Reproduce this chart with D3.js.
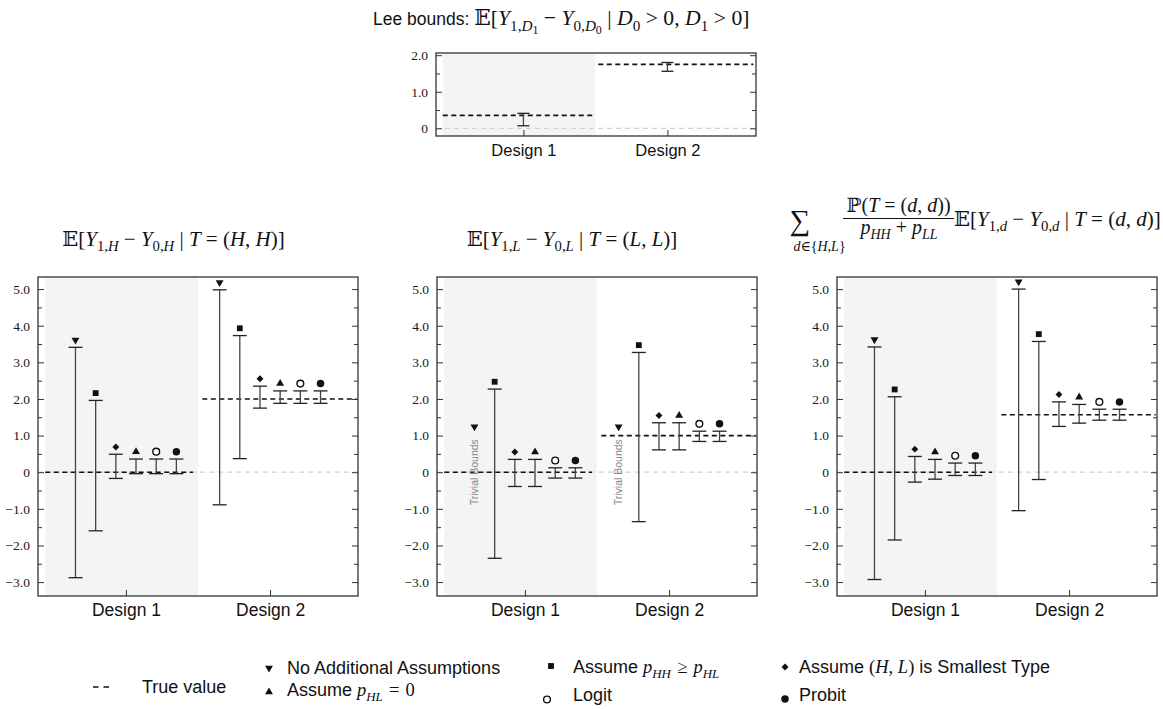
<!DOCTYPE html>
<html>
<head>
<meta charset="utf-8">
<script src="https://cdn.jsdelivr.net/npm/d3@7"></script>
<style>
  body { margin: 0; background: #fff; }
  svg { display: block; }
  text { white-space: pre; }
</style>
</head>
<body>
<svg id="chart" width="1163" height="709"></svg>
<script>
// ---- data ----
const designs = ["Design 1", "Design 2"];
// bar order inside each design group
const methods = ["No Additional Assumptions", "Assume p_HH >= p_HL", "Assume (H,L) is Smallest Type",
                 "Assume p_HL = 0", "Logit", "Probit"];
const symbols = ["tri-down", "square", "diamond", "tri-up", "circle-open", "circle"];
const offsets = [-0.35, -0.21, -0.07, 0.07, 0.21, 0.35];

// Lee bounds (top panel)
const leeLower = [0.07, 1.56];
const leeUpper = [0.41, 1.80];
const leeTrue = [0.355, 1.75];

// E[Y1H - Y0H | T=(H,H)]
const hhLower = [[-2.88, -1.60, -0.17, -0.04, -0.04, -0.04], [-0.89, 0.37, 1.75, 1.88, 1.88, 1.88]];
const hhUpper = [[3.41, 1.96, 0.49, 0.36, 0.36, 0.36], [4.98, 3.73, 2.35, 2.22, 2.22, 2.22]];
const hhTrue = [0, 2.0];

// E[Y1L - Y0L | T=(L,L)]  (first method: trivial bounds, no bar)
const llLower = [[null, -2.35, -0.39, -0.39, -0.16, -0.16], [null, -1.35, 0.61, 0.61, 0.84, 0.84]];
const llUpper = [[null, 2.27, 0.35, 0.35, 0.12, 0.12], [null, 3.27, 1.35, 1.35, 1.12, 1.12]];
const llTrue = [0, 1.0];
const llTrivialMark = [1.24, 1.24];

// weighted average over d in {H,L}
const avLower = [[-2.93, -1.85, -0.27, -0.19, -0.09, -0.09], [-1.05, -0.20, 1.25, 1.34, 1.42, 1.42]];
const avUpper = [[3.42, 2.06, 0.43, 0.35, 0.25, 0.25], [5.00, 3.57, 1.92, 1.85, 1.72, 1.72]];
const avTrue = [0, 1.57];

const yMajor = [-3, -2, -1, 0, 1, 2, 3, 4, 5];
const yMinor = [-2.5, -1.5, -0.5, 0.5, 1.5, 2.5, 3.5, 4.5];
const leeMajor = [0, 1, 2];
const leeMinor = [0.5, 1.5];

// ---- helpers ----
const svg = d3.select("#chart");
const SERIF = "'Liberation Serif', 'DejaVu Serif', serif";
const SANS = "'Liberation Sans', Arial, Helvetica, sans-serif";
const ink = "#333";

// parts: [text, kind] ; kind 'r' roman, 'i' italic, 's' sans, leading '_' = subscript level
function mathText(parent, parts, size, attrs, sansSize) {
  const t = parent.append("text").attr("font-size", size).attr("fill", "#111");
  Object.entries(attrs || {}).forEach(([k, v]) => t.attr(k, v));
  const shift = [0, 0.26 * size, 0.4 * size];
  const scale = [1, 0.7, 0.55];
  let cur = 0;
  parts.forEach(([txt, kind]) => {
    const lvl = (kind.match(/_/g) || []).length;
    const st = kind.replace(/_/g, "");
    t.append("tspan")
      .style("font-family", st === "s" ? SANS : SERIF)
      .style("font-style", st === "i" ? "italic" : "normal")
      .style("font-size", (st === "s" ? (sansSize || size) : size * scale[lvl]) + "px")
      .attr("dy", shift[lvl] - cur)
      .text(txt);
    cur = shift[lvl];
  });
  return t;
}

function marker(g, kind, cx, cy) {
  const sym = {
    "tri-down": [d3.symbolTriangle, 27, 180],
    "tri-up": [d3.symbolTriangle, 27, 0],
    "square": [d3.symbolSquare, 34, 0],
    "diamond": [d3.symbolSquare, 24, 45],
    "circle": [d3.symbolCircle, 44, 0],
    "circle-open": [d3.symbolCircle, 36, 0]
  }[kind];
  const p = g.append("path")
    .attr("d", d3.symbol().type(sym[0]).size(sym[1])())
    .attr("transform", `translate(${cx},${cy}) rotate(${sym[2]})`);
  if (kind === "circle-open") p.attr("fill", "#fff").attr("stroke", "#111").attr("stroke-width", 1.4);
  else p.attr("fill", "#111");
}

function cleanAxis(sel) {
  sel.select(".domain").remove();
  sel.selectAll("line").attr("stroke", ink);
  return sel;
}

function frameAxes(g, x, y, w, h, major, minor, fmt, labelSize, xlabelSize) {
  const left = g.append("g")
    .call(d3.axisLeft(y).tickValues(major).tickSize(-6).tickPadding(8).tickFormat(fmt));
  cleanAxis(left).selectAll("text")
    .style("font-family", SERIF).style("font-size", labelSize + "px").style("fill", "#1a1a1a");
  cleanAxis(g.append("g").call(d3.axisLeft(y).tickValues(minor).tickSize(-4).tickFormat("")));
  cleanAxis(g.append("g").attr("transform", `translate(${w},0)`)
    .call(d3.axisRight(y).tickValues(major).tickSize(-6).tickFormat("")));
  cleanAxis(g.append("g").attr("transform", `translate(${w},0)`)
    .call(d3.axisRight(y).tickValues(minor).tickSize(-4).tickFormat("")));
  const bottom = g.append("g").attr("transform", `translate(0,${h})`)
    .call(d3.axisBottom(x).tickValues([0, 1]).tickSize(-6).tickPadding(8).tickFormat(i => designs[i]));
  cleanAxis(bottom).selectAll("text")
    .style("font-family", SANS).style("font-size", xlabelSize + "px").style("fill", "#111");
  g.append("rect").attr("width", w).attr("height", h)
    .attr("fill", "none").attr("stroke", ink).attr("stroke-width", 1.3);
}

const fmtY = d => d === 0 ? "0" : d3.format(".1f")(d);

function shadeAndLines(g, x, y, w, truth, spans) {
  g.append("rect").attr("x", x(-0.56)).attr("y", 0)
    .attr("width", x(0.5) - x(-0.56)).attr("height", y.range()[0]).attr("fill", "#f4f4f4");
  g.append("line").attr("x1", 0).attr("x2", w).attr("y1", y(0)).attr("y2", y(0))
    .attr("stroke", "#d2d2d2").attr("stroke-width", 1.2).attr("stroke-dasharray", "5,4");
  truth.forEach((v, i) => {
    g.append("line").attr("x1", x(spans[i][0])).attr("x2", x(spans[i][1]))
      .attr("y1", y(v)).attr("y2", y(v))
      .attr("stroke", "#111").attr("stroke-width", 1.6).attr("stroke-dasharray", "5,3.5");
  });
}

function errbar(g, xp, y0, y1, half) {
  g.append("line").attr("x1", xp).attr("x2", xp).attr("y1", y0).attr("y2", y1)
    .attr("stroke", "#444").attr("stroke-width", 1.3);
  [y0, y1].forEach(yy => g.append("line").attr("x1", xp - half).attr("x2", xp + half)
    .attr("y1", yy).attr("y2", yy).attr("stroke", "#222").attr("stroke-width", 1.3));
}

// ---- main panels ----
const W = 320, H = 319, TOP = 277;
const xDom = [-0.61, 1.61];
const yDom = [-3.38, 5.33];

function mainPanel(left, lower, upper, truth, trivialMark) {
  const g = svg.append("g").attr("transform", `translate(${left},${TOP})`);
  const x = d3.scaleLinear().domain(xDom).range([0, W]);
  const y = d3.scaleLinear().domain(yDom).range([H, 0]);
  shadeAndLines(g, x, y, W, truth, [[-0.56, 0.465], [0.53, 1.6]]);
  designs.forEach((d, i) => {
    methods.forEach((m, j) => {
      const xp = x(i + offsets[j]);
      if (lower[i][j] === null) {
        marker(g, symbols[j], xp, y(trivialMark[i]));
        g.append("text").attr("transform", `translate(${xp + 3.5},${y(0)}) rotate(-90)`)
          .attr("text-anchor", "middle").style("font-family", SANS).style("font-size", "10.5px")
          .attr("fill", "#8a8a8a").text("Trivial Bounds");
        return;
      }
      errbar(g, xp, y(lower[i][j]), y(upper[i][j]), 7);
      marker(g, symbols[j], xp, y(upper[i][j] + 0.2));
    });
  });
  frameAxes(g, x, y, W, H, yMajor, yMinor, fmtY, 13.5, 17.5);
  return g;
}

mainPanel(38, hhLower, hhUpper, hhTrue);
mainPanel(437, llLower, llUpper, llTrue, llTrivialMark);
mainPanel(837, avLower, avUpper, avTrue);

// ---- top panel: Lee bounds ----
{
  const left = 436, top = 53, w = 320, h = 83;
  const g = svg.append("g").attr("transform", `translate(${left},${top})`);
  const x = d3.scaleLinear().domain([-0.607, 1.615]).range([0, w]);
  const y = d3.scaleLinear().domain([-0.21, 2.06]).range([h, 0]);
  shadeAndLines(g, x, y, w, leeTrue, [[-0.56, 0.478], [0.52, 1.597]]);
  designs.forEach((d, i) => errbar(g, x(i), y(leeLower[i]), y(leeUpper[i]), 6));
  frameAxes(g, x, y, w, h, leeMajor, leeMinor, fmtY, 13.5, 16.5);
}

// ---- titles ----
const TS = 21;
mathText(svg, [["Lee bounds: ", "s"], ["𝔼", "r"], ["[", "r"], ["Y", "i"], ["1,", "_r"], ["D", "_i"], ["1", "__r"],
  [" − ", "r"], ["Y", "i"], ["0,", "_r"], ["D", "_i"], ["0", "__r"], [" | ", "r"], ["D", "i"], ["0", "_r"],
  [" > 0, ", "r"], ["D", "i"], ["1", "_r"], [" > 0]", "r"]], 21.7, { x: 373, y: 25 }, 17.5);

mathText(svg, [["𝔼", "r"], ["[", "r"], ["Y", "i"], ["1,", "_r"], ["H", "_i"], [" − ", "r"], ["Y", "i"], ["0,", "_r"],
  ["H", "_i"], [" | ", "r"], ["T", "i"], [" = (", "r"], ["H", "i"], [", ", "r"], ["H", "i"], [")]", "r"]], TS,
  { x: 173.5, y: 246, "text-anchor": "middle" });

mathText(svg, [["𝔼", "r"], ["[", "r"], ["Y", "i"], ["1,", "_r"], ["L", "_i"], [" − ", "r"], ["Y", "i"], ["0,", "_r"],
  ["L", "_i"], [" | ", "r"], ["T", "i"], [" = (", "r"], ["L", "i"], [", ", "r"], ["L", "i"], [")]", "r"]], TS,
  { x: 572, y: 246, "text-anchor": "middle" });

// third title: sum with fraction
svg.append("text").attr("x", 800).attr("y", 230).attr("text-anchor", "middle")
  .style("font-family", SERIF).style("font-size", "29px").attr("fill", "#111").text("∑");
mathText(svg, [["d", "i"], ["∈{", "r"], ["H", "i"], [",", "r"], ["L", "i"], ["}", "r"]], 14,
  { x: 819.5, y: 251, "text-anchor": "middle" });
mathText(svg, [["ℙ(", "r"], ["T", "i"], [" = (", "r"], ["d", "i"], [", ", "r"], ["d", "i"], ["))", "r"]], 20,
  { x: 898.5, y: 212, "text-anchor": "middle" });
svg.append("line").attr("x1", 843).attr("x2", 954).attr("y1", 218.5).attr("y2", 218.5)
  .attr("stroke", "#111").attr("stroke-width", 1);
mathText(svg, [["p", "i"], ["HH", "_i"], [" + ", "r"], ["p", "i"], ["LL", "_i"]], 20,
  { x: 899, y: 234, "text-anchor": "middle" });
mathText(svg, [["𝔼", "r"], ["[", "r"], ["Y", "i"], ["1,", "_r"], ["d", "_i"], [" − ", "r"], ["Y", "i"], ["0,", "_r"],
  ["d", "_i"], [" | ", "r"], ["T", "i"], [" = (", "r"], ["d", "i"], [", ", "r"], ["d", "i"], [")]", "r"]], TS,
  { x: 954, y: 225.5 });

// ---- legend ----
const LS = 18, LM = 18.5;
const leg = svg.append("g");
leg.append("line").attr("x1", 93).attr("x2", 109).attr("y1", 687).attr("y2", 687)
  .attr("stroke", "#111").attr("stroke-width", 1.6).attr("stroke-dasharray", "5.5,5");
mathText(leg, [["True value", "s"]], LS, { x: 142, y: 693 }, LS);

const legendItems = [
  { sym: symbols[0], mx: 269, my: 668, tx: 287, ty: 674, parts: [["No Additional Assumptions", "s"]] },
  { sym: symbols[3], mx: 269, my: 692, tx: 287, ty: 696, parts: [["Assume ", "s"], ["p", "i"], ["HL", "_i"], ["\u2004=\u20040", "r"]] },
  { sym: symbols[1], mx: 551, my: 666, tx: 573, ty: 673, parts: [["Assume ", "s"], ["p", "i"], ["HH", "_i"], ["\u2004≥\u2004", "r"], ["p", "i"], ["HL", "_i"]] },
  { sym: symbols[4], mx: 547, my: 699.5, tx: 573, ty: 701, parts: [["Logit", "s"]] },
  { sym: symbols[2], mx: 785, my: 667, tx: 799, ty: 673, parts: [["Assume ", "s"], ["(", "r"], ["H", "i"], [", ", "r"], ["L", "i"], [")", "r"], [" is Smallest Type", "s"]] },
  { sym: symbols[5], mx: 785, my: 699, tx: 799, ty: 701, parts: [["Probit", "s"]] }
];
legendItems.forEach(it => {
  marker(leg, it.sym, it.mx, it.my);
  mathText(leg, it.parts, LM, { x: it.tx, y: it.ty }, LS);
});
</script>
</body>
</html>
